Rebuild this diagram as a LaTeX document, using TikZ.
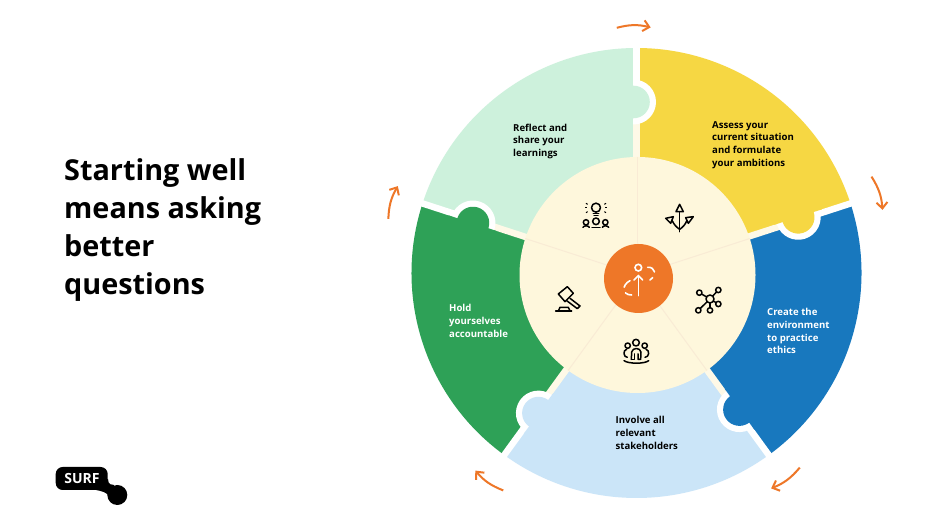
\documentclass[tikz,border=0pt]{standalone}
\usepackage{fontspec}
\setmainfont{Open Sans}
\definecolor{cYellow}{HTML}{F6D743}
\definecolor{cBlue}{HTML}{1878BE}
\definecolor{cSky}{HTML}{CBE5F8}
\definecolor{cGreen}{HTML}{2EA157}
\definecolor{cMint}{HTML}{CDF1DC}
\definecolor{cCream}{HTML}{FEF7DC}
\definecolor{cDivide}{HTML}{F9EBD5}
\definecolor{cOrange}{HTML}{EE7728}
\usetikzlibrary{arrows.meta}
\tikzset{
  x=1pt,y=1pt,
  wedgelabel/.style={anchor=north west,inner sep=0pt,align=left,font=\fontsize{9.6}{12.8}\selectfont\bfseries,text=#1},
  flow/.style={draw=cOrange,line width=2pt,bend left=14,-{Straight Barb[length=6pt,width=11pt,line width=2pt]}},
  iconline/.style={draw=black,line width=1.5pt,line cap=round,line join=round},
  whiteline/.style={draw=white,line width=1.6pt,line cap=round},
}
\newcommand{\wedgefill}[3]{\fill[#1] (0,0) -- (#2:225) arc[start angle=#2,end angle=#3,radius=225] -- cycle;}
\newcommand{\joint}[2]{%
  \begin{scope}[rotate=#1]
    \draw[white,line width=6.5pt] (150,0) -- (228,0);
    \draw[cCream!70!white,line width=6.5pt] (115,0) -- (150,0);
    \fill[white] (171,3) circle (22.5);
    \fill[#2] (146,3.25) rectangle (196,27);
    \fill[#2] (171,3) circle (16.3);
  \end{scope}}
\begin{document}
\begin{tikzpicture}
\useasboundingbox (0,0) rectangle (940,529);
\fill[white] (0,0) rectangle (940,529);

\node[anchor=north west,inner sep=0pt,align=left,font=\fontsize{28.8}{38.3}\selectfont\bfseries] (title) at (64,371) {Starting well\\means asking\\better\\questions};

% ring
\begin{scope}[shift={(636.5,256)}]
  \wedgefill{cYellow}{18}{90}
  \wedgefill{cMint}{90}{162}
  \wedgefill{cGreen}{162}{234}
  \wedgefill{cSky}{234}{306}
  \wedgefill{cBlue}{306}{378}
  \joint{90}{cMint}
  \joint{18}{cYellow}
  \joint{-54}{cBlue}
  \joint{-126}{cSky}
  \joint{162}{cGreen}
\end{scope}

% hub
\begin{scope}[shift={(637.5,254)}]
  \fill[cCream] (0,0) circle (118);
  \foreach \a in {90,18,-54,-126,162}
    \draw[cDivide,line width=1pt] (0,0) -- (\a:118);
\end{scope}
\fill[cOrange] (638.5,250.5) circle (34.5);

% labels
\node[wedgelabel=black] (assess) at (712,408) {Assess your\\current situation\\and formulate\\your ambitions};
\node[wedgelabel=black] (reflect) at (513,405.5) {Reflect and\\share your\\learnings};
\node[wedgelabel=white] (create) at (767,221) {Create the\\environment\\to practice\\ethics};
\node[wedgelabel=black] (involve) at (615.5,113) {Involve all\\relevant\\stakeholders};
\node[wedgelabel=white] (hold) at (449,225) {Hold\\yourselves\\accountable};

% orange arrows
\begin{scope}[shift={(636.5,256)}]
  \draw[flow] (94.6:246) to (86.7:246);
  \draw[flow] (22.3:254) to (14.4:254);
  \draw[flow] (-50:254) to (-58:254);
  \draw[flow] (-121.5:255) to (-129.2:255);
  \draw[flow] (167.7:254) to (160:254);
\end{scope}

% icons, in the coordinates of a 3x crop
\begin{scope}[shift={(510,379)},xscale=1/3,yscale=-1/3]
  % bulb and people
  \draw[iconline] (258,173) circle (13.5);
  \draw[iconline] (250,191) -- (266,191);
  \draw[iconline] (252,197) -- (264,197);
  \foreach \x/\y/\u/\v in {228/160/233/163,226/174/232/174,228/188/233/185,288/160/283/163,290/174/284/174,288/188/283/185}
    \draw[draw=black,line width=1pt] (\x,\y) -- (\u,\v);
  \draw[iconline] (228,217) circle (8);
  \draw[iconline] (258,214) circle (10);
  \draw[iconline] (286,217) circle (8);
  \draw[iconline] (219,232) .. controls (222,226) and (234,226) .. (238,232);
  \draw[iconline] (246,232) -- (270,232);
  \draw[iconline] (277,232) .. controls (280,226) and (292,226) .. (296,232);
  % arrows
  \draw[iconline] (509,245) -- (509,186);
  \draw[iconline] (509,163) -- (520,185) -- (498,185) -- cycle;
  \draw[iconline] (467,205) -- (490,200) -- (482,220) -- cycle;
  \draw[iconline] (550,200) -- (527,203) -- (535,220) -- cycle;
  \draw[iconline] (509,238) .. controls (500,232) and (492,224) .. (486,211);
  \draw[iconline] (509,238) .. controls (518,232) and (526,224) .. (531,211);
  % network
  \foreach \x/\y in {568/428,625/420,625/462,600/481,565/481}
    \draw[iconline] (600,447) -- (\x,\y);
  \foreach \x/\y in {568/428,625/420,625/462,600/481,565/481}
    \draw[iconline,fill=cCream] (\x,\y) circle (8);
  \draw[iconline,fill=cCream] (600,447) circle (12);
  % people
  \draw[iconline] (378,578) circle (10);
  \draw[iconline] (353,587) circle (8);
  \draw[iconline] (404,587) circle (8);
  \draw[iconline] (364,628) -- (365,606) .. controls (368,592) and (390,592) .. (393,606) -- (392,628) -- (384,628) -- (384,612);
  \draw[iconline] (364,628) -- (373,628) -- (373,612);
  \draw[iconline] (352,622) .. controls (340,622) and (338,600) .. (350,598);
  \draw[iconline] (405,622) .. controls (418,622) and (420,600) .. (408,598);
  \draw[iconline] (342,632) .. controls (355,642) and (405,642) .. (416,632);
  % gavel
  \draw[iconline] (145,432) -- (172,410) -- (190,430) -- (165,455) -- cycle;
  \draw[iconline] (180,445) -- (210,468) -- (202,476) -- (170,452);
  \draw[iconline] (137,483) -- (185,483);
  \draw[iconline] (145,483) -- (150,472) -- (175,472) -- (180,483);
  % central icon
  \draw[whiteline] (385,353) circle (10);
  \draw[whiteline] (385,437) -- (385,378);
  \draw[whiteline] (372,390) -- (385,377) -- (398,390);
  \draw[whiteline,dash pattern=on 9 off 6] (413,352) .. controls (435,350) and (442,375) .. (420,390);
  \draw[whiteline,dash pattern=on 9 off 6] (360,392) .. controls (335,405) and (335,435) .. (365,435);
\end{scope}

% logo
\fill[black] (117.3,34) circle (10);
\fill[black] (100,46) -- (108,50) .. controls (108,44) and (112,44) .. (114,44) -- (112,30) .. controls (106,38) and (100,38) .. (96,39) -- cycle;
\fill[black,rounded corners=7pt] (55.7,39) rectangle (107.7,62);
\node[inner sep=0pt,text=white,font=\fontsize{14}{14}\selectfont\bfseries] (surf) at (82,50.5) {SURF};
\end{tikzpicture}
\end{document}
